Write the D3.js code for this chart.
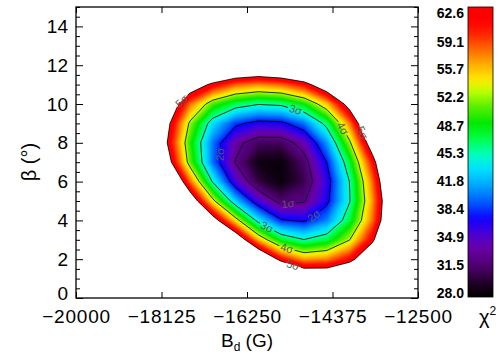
<!DOCTYPE html>
<html>
<meta charset="utf-8">
<head>
<script src="https://d3js.org/d3.v7.min.js"></script>
<style>
body { margin: 0; background: #fff; }
text { font-family: "Liberation Sans", Arial, sans-serif; }
</style>
</head>
<body>
<script>
// grid of the fit: field strength (G) and inclination (deg), rows from top to bottom
var bGrid = [-18500, -18000, -17500, -17000, -16500, -16000, -15500, -15000, -14500, -14000, -13500, -13000, -12500];
var betaGrid = [13, 12, 11, 10, 9, 8, 7, 6, 5, 4, 3, 2, 1, 0];
var chi2Rows = [
  [99.0, 99.0, 97.7, 92.2, 89.7, 88.4, 90.1, 93.2, 99.0, 99.0, 99.0, 99.0, 99.0],
  [99.0, 87.6, 80.4, 75.4, 72.2, 71.0, 72.3, 75.4, 82.4, 91.8, 99.0, 99.0, 99.0],
  [88.7, 76.4, 66.6, 61.4, 57.8, 56.6, 57.6, 60.5, 67.1, 76.5, 90.5, 99.0, 99.0],
  [83.0, 67.8, 57.4, 50.2, 46.7, 45.2, 45.7, 48.7, 54.9, 65.0, 79.6, 98.1, 99.0],
  [79.7, 64.1, 51.7, 43.1, 38.4, 36.6, 36.9, 39.8, 46.2, 57.0, 71.6, 90.0, 99.0],
  [79.5, 62.6, 49.5, 39.9, 33.6, 31.1, 31.1, 34.0, 40.9, 51.7, 66.1, 82.9, 99.0],
  [83.5, 65.3, 50.7, 39.8, 32.5, 28.8, 28.4, 31.5, 37.7, 47.4, 60.3, 76.5, 96.1],
  [93.7, 73.7, 57.6, 44.6, 35.5, 30.3, 28.5, 30.6, 36.2, 45.1, 57.4, 73.1, 92.2],
  [99.0, 84.8, 67.2, 53.4, 42.5, 35.6, 31.6, 32.4, 36.9, 44.8, 56.2, 70.9, 89.0],
  [99.0, 99.0, 81.5, 65.4, 54.0, 43.7, 38.0, 37.2, 40.3, 47.2, 57.3, 71.3, 88.5],
  [99.0, 99.0, 98.8, 83.0, 67.8, 55.4, 47.7, 45.1, 47.0, 52.3, 61.6, 74.3, 90.1],
  [99.0, 99.0, 99.0, 99.0, 84.2, 70.7, 60.8, 56.1, 56.8, 60.8, 68.4, 80.0, 95.4],
  [99.0, 99.0, 99.0, 99.0, 99.0, 89.4, 77.9, 70.1, 69.5, 72.2, 78.5, 88.7, 99.0],
  [99.0, 99.0, 99.0, 99.0, 99.0, 99.0, 98.0, 87.0, 85.0, 87.0, 92.0, 99.0, 99.0]
];
var chi2Min = 28.0, chi2Max = 62.6;
var sigmaLevels = [32.7, 37.7, 45.0, 52.4, 62.6];
var sigmaNames = ["1\u03c3", "2\u03c3", "3\u03c3", "4\u03c3", "5\u03c3"];
var xTicks = [-20000, -18125, -16250, -14375, -12500];
var yTicks = [0, 2, 4, 6, 8, 10, 12, 14];
var barTicks = [28.0, 31.5, 34.9, 38.4, 41.8, 45.3, 48.7, 52.2, 55.7, 59.1, 62.6];
// where the contour labels sit (level index, field, inclination)
var labelSpots = [
  [4, -17675, 10.15], [4, -13728, 8.51], [4, -15241, 1.70],
  [3, -14210, 8.66], [3, -15373, 2.58],
  [2, -15197, 9.59], [2, -15811, 3.66],
  [1, -16930, 7.42], [1, -14803, 4.28],
  [0, -15351, 4.90]
];

// rainbow + black colour table
var stopT = [0, 0.05, 0.10, 0.17, 0.22, 0.27, 0.32, 0.38, 0.44, 0.49, 0.55, 0.60, 0.66, 0.71, 0.75, 0.80, 0.86, 0.91, 0.95, 1];
var stopC = ["#000000", "#200028", "#4a0068", "#6a00a8", "#4800d8", "#1000ff", "#0050ff", "#00a0ff", "#00e0ff", "#00ffc0",
             "#00ff40", "#00e800", "#60f000", "#c0ff00", "#ffe800", "#ffb000", "#ff6000", "#ff2000", "#ff0000", "#ff0000"];
var color = d3.scaleLinear()
  .domain(stopT.map(function(t){ return chi2Min + t * (chi2Max - chi2Min); }))
  .range(stopC);

var svg = d3.select("body").append("svg").attr("width", 504).attr("height", 360);

var x = d3.scaleLinear().domain([-20000, -12500]).range([76, 418]);
var y = d3.scaleLinear().domain([0, 15]).range([298, 7]);

// d3.contours puts sample i at coordinate i + 0.5
var nx = bGrid.length, ny = betaGrid.length;
var gx = d3.scaleLinear().domain([0.5, nx - 0.5]).range([bGrid[0], bGrid[nx - 1]]);
var gy = d3.scaleLinear().domain([0.5, ny - 0.5]).range([betaGrid[0], betaGrid[ny - 1]]);
var proj = d3.geoTransform({ point: function(px, py) { this.stream.point(x(gx(px)), y(gy(py))); } });
var path = d3.geoPath(proj);

// negate so that contours enclose the low chi2 region
var values = [];
chi2Rows.forEach(function(row){ row.forEach(function(v){ values.push(-v); }); });

var fillLevels = d3.range(chi2Max, chi2Min, -0.2);
var fills = d3.contours().size([nx, ny])
  .thresholds(fillLevels.map(function(v){ return -v; }))(values);
fills.sort(function(a, b){ return a.value - b.value; });

svg.append("g").selectAll("path")
  .data(fills)
  .enter().append("path")
  .attr("d", path)
  .attr("fill", function(d){ return color(-d.value); });

var lineSet = d3.contours().size([nx, ny])
  .thresholds(sigmaLevels.map(function(v){ return -v; }))(values);
var lines = sigmaLevels.map(function(v){
  return lineSet.filter(function(c){ return Math.abs(c.value + v) < 1e-9; })[0];
});

function toPx(p) { return [x(gx(p[0])), y(gy(p[1]))]; }

// find spot on each contour for its label
var labels = labelSpots.map(function(s) {
  var tx = x(s[1]), ty = y(s[2]);
  var best = {d: 1e9};
  lines[s[0]].coordinates.forEach(function(poly) {
    poly.forEach(function(ring) {
      var pts = ring.map(toPx);
      for (var i = 0; i < pts.length - 1; i++) {
        var a = pts[i], b = pts[i + 1];
        var dx = b[0] - a[0], dy = b[1] - a[1];
        var L = dx * dx + dy * dy;
        var t = L ? ((tx - a[0]) * dx + (ty - a[1]) * dy) / L : 0;
        t = Math.max(0, Math.min(1, t));
        var px = a[0] + t * dx, py = a[1] + t * dy;
        var dd = (px - tx) * (px - tx) + (py - ty) * (py - ty);
        if (dd < best.d) {
          var ang = Math.atan2(dy, dx) * 180 / Math.PI;
          if (ang > 90) ang -= 180;
          if (ang < -90) ang += 180;
          best = {d: dd, x: px, y: py, a: ang};
        }
      }
    });
  });
  best.text = sigmaNames[s[0]];
  return best;
});

var defs = svg.append("defs");
var mask = defs.append("mask").attr("id", "gaps");
mask.append("rect").attr("width", 504).attr("height", 360).attr("fill", "#fff");

var lab = svg.append("g");
var labText = lab.selectAll("text")
  .data(labels)
  .enter().append("text")
  .attr("transform", function(d){ return "translate(" + d.x + "," + d.y + ") rotate(" + d.a + ")"; })
  .attr("text-anchor", "middle")
  .attr("dy", "0.35em")
  .attr("font-size", 11)
  .attr("fill", "#5a5a5a")
  .text(function(d){ return d.text; });

labText.each(function(d){
  var w = this.getComputedTextLength() + 3;
  mask.append("rect")
    .attr("transform", "translate(" + d.x + "," + d.y + ") rotate(" + d.a + ")")
    .attr("x", -w / 2).attr("y", -5).attr("width", w).attr("height", 10)
    .attr("fill", "#000");
});

svg.insert("g", function(){ return lab.node(); })
  .attr("mask", "url(#gaps)")
  .selectAll("path")
  .data(lines)
  .enter().append("path")
  .attr("d", path)
  .attr("fill", "none")
  .attr("stroke", "#000")
  .attr("stroke-width", 0.8);

// axes, ticks pointing inwards
var minorY = d3.range(0, 15.01, 0.5).filter(function(v){ return v % 2 !== 0; });
function styleAxis(g) {
  g.select(".domain").remove();
  g.selectAll("line").attr("stroke", "#000").attr("stroke-width", 1);
  g.selectAll("text").attr("font-size", 19).attr("fill", "#000");
}

svg.append("g").attr("transform", "translate(76,0)")
  .call(d3.axisLeft(y).tickValues(yTicks).tickSize(-7).tickPadding(8).tickFormat(d3.format("d")))
  .call(styleAxis)
  .call(function(g){ g.selectAll(".tick").filter(function(d){ return d === 0; }).select("text").attr("dy", "0.06em"); });
svg.append("g").attr("transform", "translate(76,0)")
  .call(d3.axisLeft(y).tickValues(minorY).tickSize(-4).tickFormat(""))
  .call(styleAxis);
svg.append("g").attr("transform", "translate(418,0)")
  .call(d3.axisRight(y).tickValues(yTicks).tickSize(-7).tickFormat(""))
  .call(styleAxis);
svg.append("g").attr("transform", "translate(418,0)")
  .call(d3.axisRight(y).tickValues(minorY).tickSize(-4).tickFormat(""))
  .call(styleAxis);
svg.append("g").attr("transform", "translate(0,298)")
  .call(d3.axisBottom(x).tickValues(xTicks).tickSize(-6).tickPadding(12).tickFormat(d3.format("d")))
  .call(styleAxis)
  .call(function(g){ g.selectAll("text").attr("letter-spacing", 0.8); });
svg.append("g").attr("transform", "translate(0,7)")
  .call(d3.axisTop(x).tickValues(xTicks).tickSize(-6).tickFormat(""))
  .call(styleAxis);

svg.append("rect")
  .attr("x", 76).attr("y", 7).attr("width", 342).attr("height", 291)
  .attr("fill", "none").attr("stroke", "#000").attr("stroke-width", 1.3);

// axis titles
var xt = svg.append("text").attr("x", 247).attr("y", 347).attr("text-anchor", "middle").attr("font-size", 19);
xt.append("tspan").text("B");
xt.append("tspan").attr("font-size", 12).attr("dy", 4).text("d");
xt.append("tspan").attr("dy", -4).text(" (G)");

svg.append("text")
  .attr("transform", "translate(36,162) rotate(-90)")
  .attr("text-anchor", "middle")
  .attr("font-size", 20)
  .text("\u03b2 (\u00b0)");

// colour bar
var barY = d3.scaleLinear().domain([chi2Min, chi2Max]).range([297, 7]);
var grad = defs.append("linearGradient").attr("id", "bar")
  .attr("x1", 0).attr("y1", 1).attr("x2", 0).attr("y2", 0);
grad.selectAll("stop")
  .data(d3.range(0, 1.0001, 0.02))
  .enter().append("stop")
  .attr("offset", function(t){ return t; })
  .attr("stop-color", function(t){ return color(chi2Min + t * (chi2Max - chi2Min)); });

svg.append("rect")
  .attr("x", 468).attr("y", barY(chi2Max)).attr("width", 25).attr("height", barY(chi2Min) - barY(chi2Max))
  .attr("fill", "url(#bar)").attr("stroke", "#000").attr("stroke-width", 0.8);

var labY = d3.scaleLinear().domain([chi2Min, chi2Max]).range([293, 13.5]);
svg.append("g").selectAll("text")
  .data(barTicks)
  .enter().append("text")
  .attr("x", 464)
  .attr("y", function(d){ return labY(d); })
  .attr("dy", "0.35em")
  .attr("text-anchor", "end")
  .attr("font-size", 14)
  .attr("font-weight", "bold")
  .text(d3.format(".1f"));

var ct = svg.append("text").attr("x", 479).attr("y", 324).attr("font-size", 20);
ct.append("tspan").text("\u03c7");
ct.append("tspan").attr("font-size", 12).attr("dy", -9).text("2");
</script>
</body>
</html>
